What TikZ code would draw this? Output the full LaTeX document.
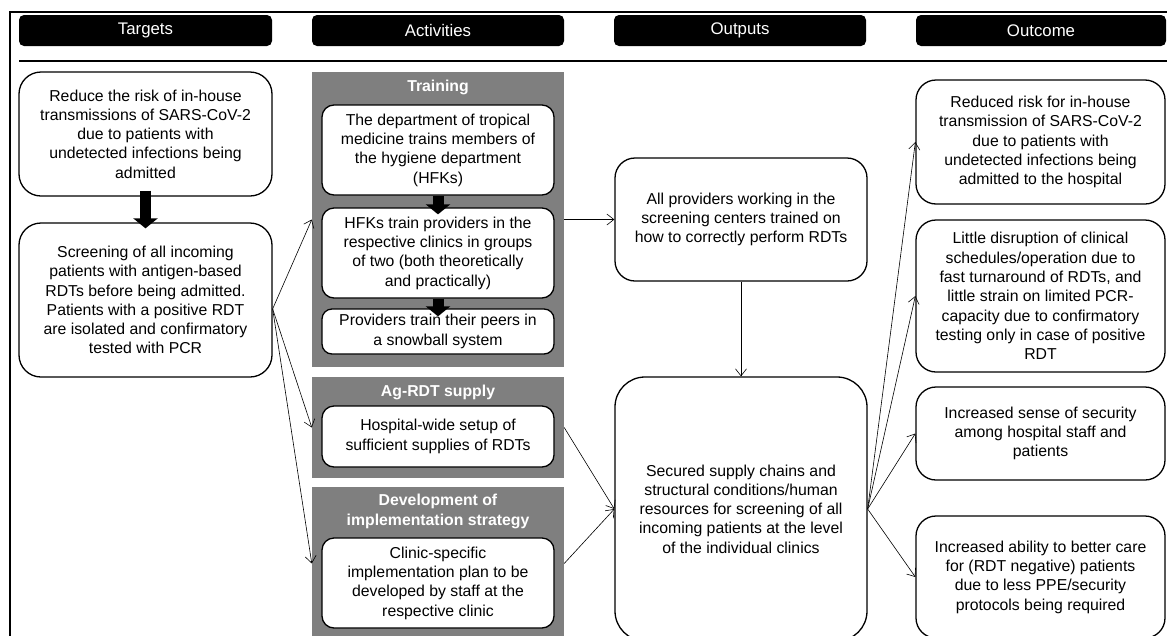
\documentclass[tikz,border=0pt]{standalone}
\usepackage{fontspec}
\setmainfont{Liberation Sans}
\usepackage{tikz}
\usetikzlibrary{arrows.meta}
\definecolor{panelgray}{HTML}{7F7F7F}
\newcommand{\boxfont}{\fontsize{15.8}{19.3}\selectfont}
\tikzset{
	head/.style={fill=black,text=white,rounded corners=5pt,minimum width=#1,minimum height=31pt,inner sep=0pt,font=\fontsize{16.8}{20}\selectfont},
	rbox/.style 2 args={draw,fill=white,line width=1.3pt,rounded corners=#1,minimum width=#2,align=center,inner sep=0pt},
	panel/.style={fill=panelgray,minimum width=252pt,minimum height=#1,inner sep=0pt},
	ptitle/.style={text=white,font=\boxfont\bfseries,align=center},
	link/.style={-{Straight Barb[length=7pt,width=11pt]},line width=0.6pt},
	fat/.style={-{Triangle[length=10pt,width=24pt]},line width=11pt}
}

\begin{document}
\begin{tikzpicture}[x=1pt,y=-1pt,font=\boxfont]
	\useasboundingbox (0,0) rectangle (1167,635);
	\clip (0,0) rectangle (1167,635);

	\draw[line width=2.5pt] (10,700) -- (10,12) -- (1200,12);
	\draw[line width=1.2pt] (19,61) -- (1200,61);

	\node[head=253pt] (hTar) at (145.5,30.5) {Targets};
	\node[head=252pt] (hAct) at (438,30.5) {Activities};
	\node[head=252pt] (hOut) at (740,30.5) {Outputs};
	\node[head=250pt] (hOcm) at (1041,30.5) {Outcome};

	\node[rbox={22pt}{253pt},minimum height=124pt] (tgtA) at (145.5,134) {Reduce the risk of in-house\\transmissions of SARS-CoV-2\\due to patients with\\undetected infections being\\admitted};
	\node[rbox={22pt}{253pt},minimum height=154pt] (tgtB) at (145.5,300) {Screening of all incoming\\patients with antigen-based\\RDTs before being admitted.\\Patients with a positive RDT\\are isolated and confirmatory\\tested with PCR};

	\node[panel=295pt] (trainP) at (438,219.5) {};
	\node[ptitle] (trainT) at (438,87) {Training};
	\node[rbox={12pt}{232pt},minimum height=90pt] (actA) at (438,150) {The department of tropical\\medicine trains members of\\the hygiene department\\(HFKs)};
	\node[rbox={12pt}{232pt},minimum height=90pt] (actB) at (438,253) {HFKs train providers in the\\respective clinics in groups\\of two (both theoretically\\and practically)};
	\node[rbox={10pt}{232pt},minimum height=45pt] (actC) at (438,331.5) {Providers train their peers in\\a snowball system};

	\node[panel=101pt] (agP) at (438,427.5) {};
	\node[ptitle] (agT) at (438,392) {Ag-RDT supply};
	\node[rbox={12pt}{232pt},minimum height=61pt] (agBox) at (438,436.5) {Hospital-wide setup of\\sufficient supplies of RDTs};

	\node[panel=153pt] (devP) at (438,563.5) {};
	\node[ptitle] (devT) at (438,511.5) {Development of\\implementation strategy};
	\node[rbox={12pt}{232pt},minimum height=90pt] (devBox) at (438,583) {Clinic-specific\\implementation plan to be\\developed by staff at the\\respective clinic};

	\node[rbox={20pt}{252pt},minimum height=123pt] (outA) at (741,219.5) {All providers working in the\\screening centers trained on\\how to correctly perform RDTs};
	\node[rbox={30pt}{252pt},minimum height=264pt] (outB) at (741,509) {Secured supply chains and\\structural conditions/human\\resources for screening of all\\incoming patients at the level\\of the individual clinics};

	\node[rbox={20pt}{249pt},minimum height=124pt] (ocmA) at (1040.5,142) {Reduced risk for in-house\\transmission of SARS-CoV-2\\due to patients with\\undetected infections being\\admitted to the hospital};
	\node[rbox={20pt}{249pt},minimum height=152pt] (ocmB) at (1040.5,296) {Little disruption of clinical\\schedules/operation due to\\fast turnaround of RDTs, and\\little strain on limited PCR-\\capacity due to confirmatory\\testing only in case of positive\\RDT};
	\node[rbox={20pt}{249pt},minimum height=93pt] (ocmC) at (1040.5,433.5) {Increased sense of security\\among hospital staff and\\patients};
	\node[rbox={20pt}{249pt},minimum height=122pt] (ocmD) at (1040.5,577) {Increased ability to better care\\for (RDT negative) patients\\due to less PPE/security\\protocols being required};

	\draw[fat,shorten <=-6pt,shorten >=-6pt] (tgtA.south) -- (tgtB.north);
	\draw[fat,shorten >=-7pt] (actA.south) -- (actB.north);
	\draw[fat,shorten >=-8pt] (actB.south) -- (actC.north);

	\draw[link] (tgtB.-4) -- (trainP.west);
	\draw[link] (tgtB.-4) -- (agP.west);
	\draw[link] (tgtB.-4) -- (devP.west);
	\draw[link] (trainP.east) -- (outA.west);
	\draw[link] (agP.east) -- (outB.west);
	\draw[link] (devP.east) -- (outB.west);
	\draw[link] (outA.south) -- (outB.north);
	\draw[link] (outB.east) -- (ocmA.west);
	\draw[link] (outB.east) -- (ocmB.west);
	\draw[link] (outB.east) -- (ocmC.west);
	\draw[link] (outB.east) -- (ocmD.west);
\end{tikzpicture}
\end{document}
